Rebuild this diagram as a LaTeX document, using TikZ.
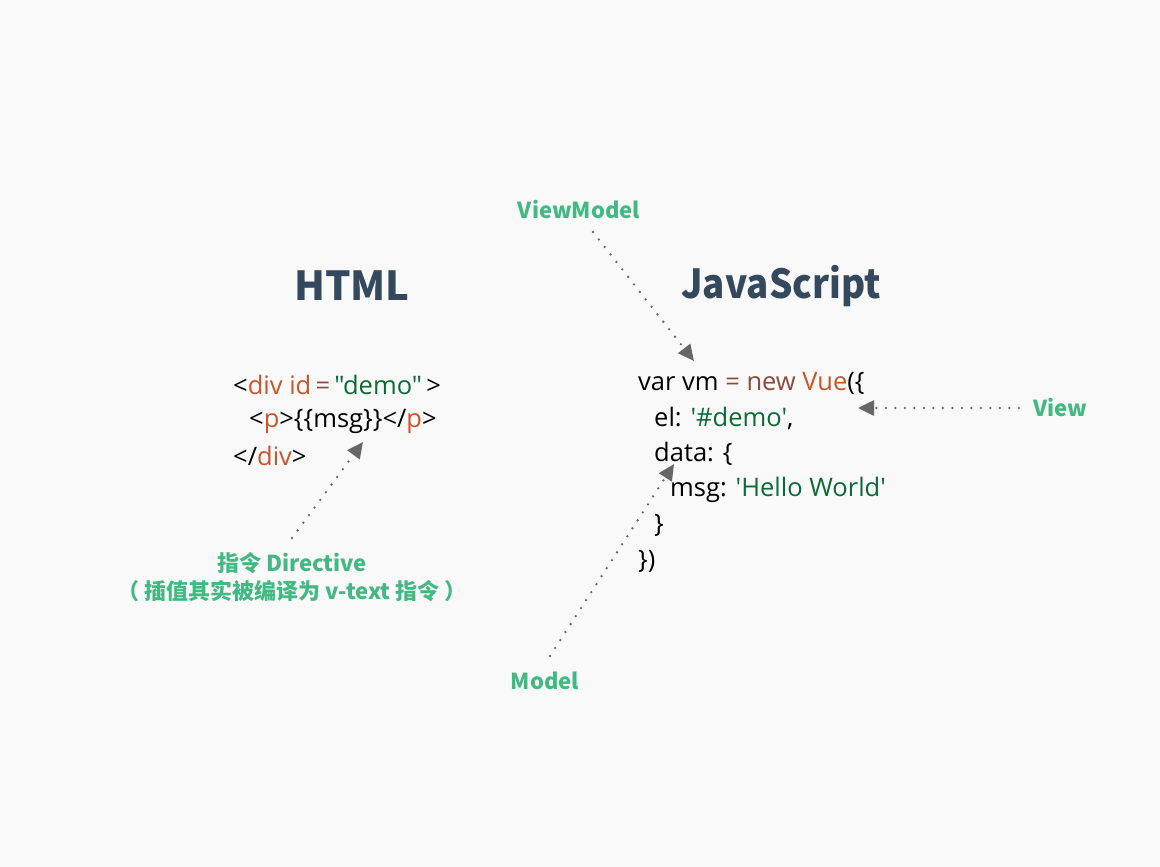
\documentclass[tikz,border=0pt]{standalone}
\usepackage{fontspec}
\setmainfont{Noto Sans CJK SC}
\newfontfamily\codefont{Open Sans}
\usetikzlibrary{arrows.meta, positioning}
\definecolor{pagebg}{HTML}{F9F9F9}
\definecolor{vuegreen}{HTML}{42B983}
\definecolor{titleblue}{HTML}{34495E}
\definecolor{tagred}{HTML}{C9552A}
\definecolor{strgreen}{HTML}{0B6B36}
\definecolor{opbrown}{HTML}{8B4A3C}
\definecolor{pointgray}{HTML}{666666}
\newcommand{\tg}[1]{\textcolor{tagred}{#1}}
\newcommand{\st}[1]{\textcolor{strgreen}{#1}}
\newcommand{\op}[1]{\textcolor{opbrown}{#1}}
\tikzset{
  title/.style={font=\fontsize{40}{48}\selectfont\bfseries, text=titleblue},
  codeline/.style={anchor=west, inner sep=0pt, font=\codefont\fontsize{25.5}{30}\selectfont},
  tag/.style={font=\fontsize{22}{28}\selectfont\bfseries, text=vuegreen, align=center, inner sep=2pt},
  pointer/.style={pointgray, line width=2.6pt, line cap=round, dash pattern=on 0pt off 9.5pt,
    -{Triangle[length=16pt,width=15pt]}}
}
\begin{document}
\begin{tikzpicture}[x=1pt, y=-1pt]
\useasboundingbox[fill=pagebg] (0,0) rectangle (1160,867);
% titles
\node (html) at (352,286) [title] {HTML};
\node (js) at (781,286) [title, xscale=0.92] {JavaScript};
% html code
\node (h1) at (233,385) [codeline] {<\tg{div} \tg{id}\,\op{=}\,\st{"demo"}\,>};
\node (h2) at (249,421) [codeline] {<\tg{p}>\{\{msg\}\}</\tg{p}>};
\node (h3) at (233,456) [codeline] {</\tg{div}>};
% js code
\node (j1) at (638,383) [codeline] {var vm \op{= new} \tg{Vue}(\{};
\node (j2) at (654,418) [codeline] {el: \st{'\#demo'},};
\node (j3) at (654,454) [codeline] {data: \{};
\node (j4) at (670,490) [codeline] {msg: \st{'Hello World'}};
\node (j5) at (654,525) [codeline] {\}};
\node (j6) at (638,561) [codeline] {\})};
% labels
\node (vmodel) at (579,210) [tag] {ViewModel};
\node (view) at (1060,408) [tag] {View};
\node (model) at (545,681) [tag] {Model};
\node (dir) at (292,577) [tag] {指令 Directive\\（ 插值其实被编译为 v-text 指令 ）};
% arrow tips
\coordinate (vmtip) at (694,361);
\coordinate (viewtip) at (858,408);
\coordinate (modeltip) at (674,464);
\coordinate (dirtip) at (363,442);
\draw[pointer] (593,232) -- (vmtip);
\draw[pointer] (view.west) ++(-12,0) -- (viewtip);
\draw[pointer] (550,656) -- (modeltip);
\draw[pointer] (292,538) -- (dirtip);
\end{tikzpicture}
\end{document}
